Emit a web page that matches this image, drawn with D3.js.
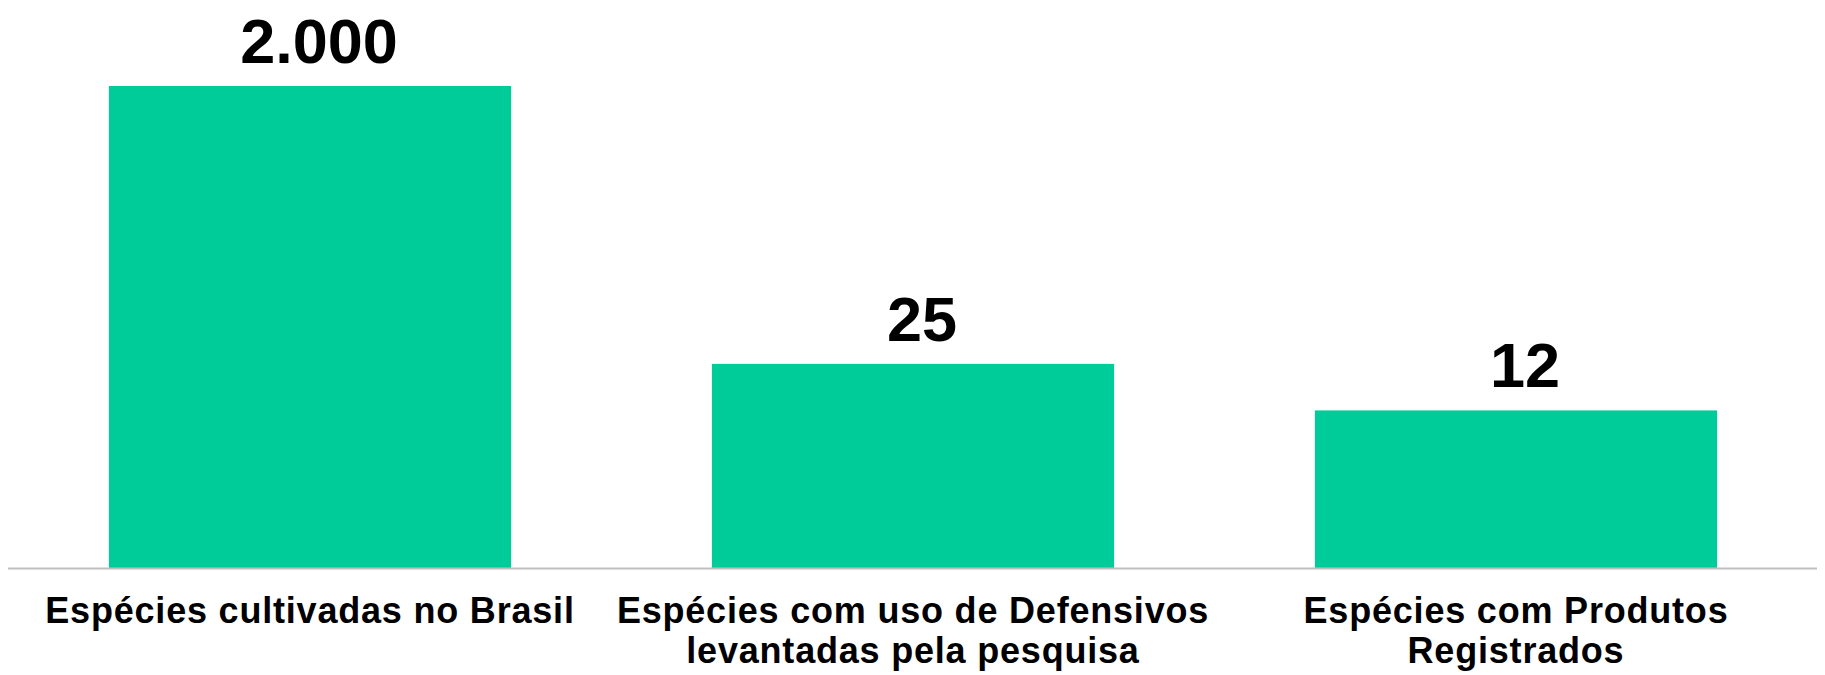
<!DOCTYPE html>
<html>
<head>
<meta charset="utf-8">
<script src="https://cdn.jsdelivr.net/npm/d3@7"></script>
<style>
  body { margin: 0; background: #fff; }
  svg { display: block; font-family: 'Liberation Sans', Arial, sans-serif; }
</style>
</head>
<body>
<svg id="svg"></svg>
<script>
// data
const categories = [
  'Espécies cultivadas no Brasil',
  'Espécies com uso de Defensivos\nlevantadas pela pesquisa',
  'Espécies com Produtos\nRegistrados'
]
const values = [2000, 25, 12]
const valueLabels = ['2.000', '25', '12']

const w = 1825
const h = 675
const barColor = '#00cc99'

const svg = d3.select('#svg')
  .attr('width', w).attr('height', h)

// bands: step ~603px, bar ~402px
const x = d3.scaleBand()
  .domain(categories)
  .range([8.5, 1817.5])
  .paddingInner(0.333)
  .paddingOuter(0.1665)

// the original uses a log axis starting at 1
const y = d3.scaleLog()
  .domain([1, 2000])
  .range([568, 86])

const rows = categories.map((c, i) => ({ cat: c, v: values[i], lbl: valueLabels[i] }))

svg.selectAll('rect.bar')
  .data(rows)
  .enter().append('rect')
  .attr('class', 'bar')
  .attr('x', d => x(d.cat))
  .attr('width', x.bandwidth())
  .attr('y', d => y(d.v))
  .attr('height', d => y(1) - y(d.v))
  .attr('fill', barColor)

// baseline
svg.append('line')
  .attr('x1', 8).attr('x2', 1817)
  .attr('y1', y(1) + 0.5).attr('y2', y(1) + 0.5)
  .attr('stroke', '#bfbfbf')
  .attr('stroke-width', 2)

// value labels
svg.selectAll('text.val')
  .data(rows)
  .enter().append('text')
  .attr('class', 'val')
  .attr('x', d => x(d.cat) + x.bandwidth() / 2 + 9)
  .attr('y', d => y(d.v) - 23)
  .attr('text-anchor', 'middle')
  .attr('font-size', 63)
  .attr('font-weight', 'bold')
  .attr('fill', '#000')
  .text(d => d.lbl)

// category labels, split on newlines
const cat = svg.selectAll('text.cat')
  .data(rows)
  .enter().append('text')
  .attr('class', 'cat')
  .attr('text-anchor', 'middle')
  .attr('font-size', 36)
  .attr('font-weight', 'bold')
  .attr('letter-spacing', 0.8)
  .attr('fill', '#000')

cat.selectAll('tspan')
  .data(d => d.cat.split('\n').map(t => ({ t, cx: x(d.cat) + x.bandwidth() / 2 })))
  .enter().append('tspan')
  .attr('x', d => d.cx)
  .attr('y', (d, i) => 623 + i * 40)
  .text(d => d.t)
</script>
</body>
</html>
